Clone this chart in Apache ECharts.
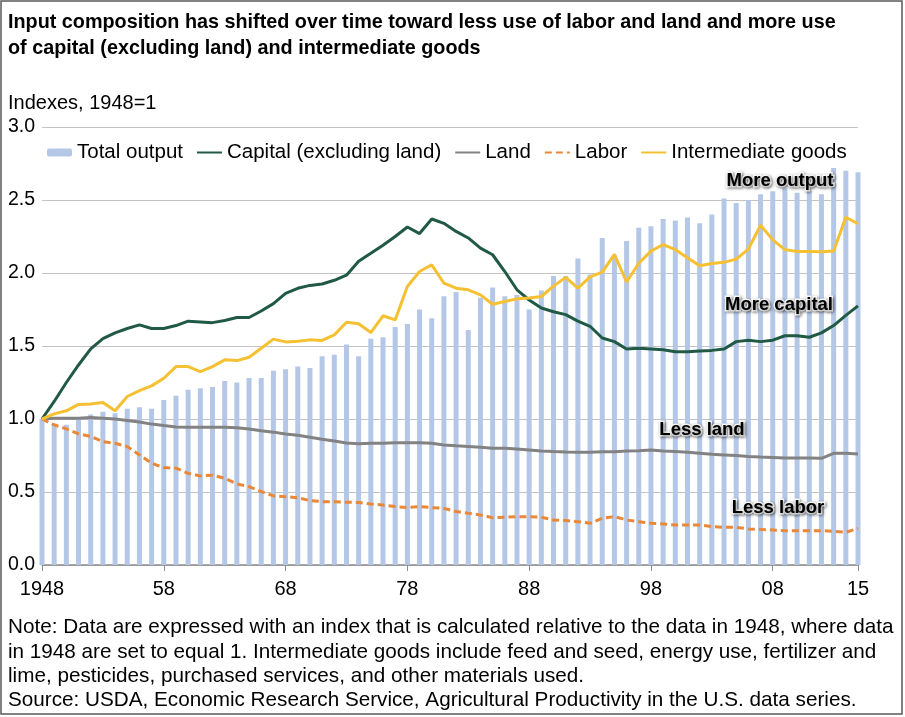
<!DOCTYPE html>
<html>
<head>
<meta charset="utf-8">
<title>Input composition</title>
<script src="https://cdn.jsdelivr.net/npm/echarts@6/dist/echarts.min.js"></script>
<style>
html, body { margin: 0; padding: 0; background: #fff; }
#main { width: 905px; height: 717px; }
</style>
</head>
<body>
<div id="main"></div>
<script>
// years on the x axis, 1948-2015
var years = ['1948','1949','1950','1951','1952','1953','1954','1955','1956','1957',
  '1958','1959','1960','1961','1962','1963','1964','1965','1966','1967',
  '1968','1969','1970','1971','1972','1973','1974','1975','1976','1977',
  '1978','1979','1980','1981','1982','1983','1984','1985','1986','1987',
  '1988','1989','1990','1991','1992','1993','1994','1995','1996','1997',
  '1998','1999','2000','2001','2002','2003','2004','2005','2006','2007',
  '2008','2009','2010','2011','2012','2013','2014','2015'];

var totalOutput = [1.00,0.97,0.96,1.00,1.03,1.05,1.04,1.07,1.08,1.07,
  1.13,1.16,1.20,1.21,1.22,1.26,1.25,1.28,1.28,1.33,
  1.34,1.36,1.35,1.43,1.44,1.51,1.43,1.55,1.56,1.63,
  1.65,1.75,1.69,1.84,1.87,1.61,1.83,1.90,1.84,1.85,
  1.75,1.88,1.98,1.98,2.10,1.99,2.24,2.12,2.22,2.31,
  2.32,2.37,2.36,2.38,2.34,2.40,2.51,2.48,2.50,2.54,
  2.56,2.58,2.55,2.56,2.54,2.72,2.70,2.69];

var capital = [1.00,1.12,1.25,1.37,1.48,1.55,1.59,1.62,1.645,1.62,
  1.62,1.64,1.67,1.665,1.66,1.675,1.695,1.695,1.74,1.79,
  1.86,1.895,1.915,1.925,1.95,1.985,2.08,2.135,2.19,2.25,
  2.315,2.27,2.37,2.34,2.285,2.24,2.17,2.125,2.01,1.885,
  1.815,1.76,1.735,1.715,1.67,1.635,1.555,1.53,1.48,1.485,
  1.48,1.475,1.46,1.46,1.465,1.47,1.48,1.53,1.54,1.53,
  1.54,1.57,1.57,1.56,1.59,1.64,1.71,1.775];

var land = [1.00,1.005,1.005,1.005,1.01,1.005,1.00,0.99,0.98,0.965,
  0.955,0.946,0.944,0.944,0.944,0.944,0.94,0.932,0.92,0.91,
  0.898,0.888,0.875,0.861,0.85,0.835,0.83,0.834,0.834,0.838,
  0.838,0.838,0.834,0.822,0.816,0.811,0.806,0.80,0.80,0.795,
  0.788,0.781,0.777,0.774,0.772,0.772,0.776,0.776,0.781,0.783,
  0.788,0.781,0.777,0.772,0.765,0.758,0.754,0.75,0.743,0.739,
  0.736,0.733,0.733,0.733,0.731,0.765,0.765,0.761];

var labor = [1.00,0.96,0.932,0.898,0.88,0.845,0.834,0.811,0.754,0.697,
  0.667,0.663,0.628,0.61,0.615,0.594,0.555,0.537,0.503,0.473,
  0.468,0.461,0.441,0.434,0.434,0.43,0.428,0.418,0.411,0.40,
  0.393,0.40,0.393,0.388,0.366,0.354,0.343,0.324,0.327,0.331,
  0.331,0.327,0.308,0.305,0.297,0.286,0.32,0.331,0.308,0.297,
  0.286,0.281,0.274,0.274,0.274,0.263,0.258,0.258,0.247,0.244,
  0.24,0.235,0.235,0.235,0.235,0.231,0.224,0.251];

var intermediate = [1.00,1.035,1.056,1.10,1.103,1.113,1.056,1.154,1.195,1.227,
  1.279,1.359,1.359,1.325,1.359,1.405,1.40,1.423,1.485,1.547,
  1.528,1.533,1.542,1.538,1.576,1.663,1.652,1.592,1.707,1.679,
  1.908,2.01,2.056,1.93,1.896,1.885,1.85,1.786,1.805,1.823,
  1.828,1.839,1.91,1.97,1.897,1.973,2.006,2.127,1.938,2.067,
  2.15,2.195,2.16,2.105,2.049,2.065,2.073,2.095,2.164,2.327,
  2.227,2.16,2.147,2.147,2.146,2.15,2.382,2.337];

var tickYears  = ['1948','1958','1968','1978','1988','1998','2008','2015'];
var tickLabels = ['1948','58','68','78','88','98','08','15'];

var titleLines = [
  'Input composition has shifted over time toward less use of labor and land and more use',
  'of capital (excluding land) and intermediate goods'
];
var unitLabel = 'Indexes, 1948=1';
var noteLines = [
  'Note: Data are expressed with an index that is calculated relative to the data in 1948, where data',
  'in 1948 are set to equal 1. Intermediate goods include feed and seed, energy use, fertilizer and',
  'lime, pesticides, purchased services, and other materials used.',
  'Source: USDA, Economic Research Service, Agricultural Productivity in the U.S. data series.'
];

var FONT = '"Liberation Sans", Arial, Helvetica, sans-serif';

function isTick(index) {
  return tickYears.indexOf(years[index]) !== -1;
}

function plainText(x, y, s, size, weight) {
  return {
    type: 'text', x: x, y: y, silent: true,
    style: {
      text: s, fill: '#000', fontSize: size, fontWeight: weight || 'normal',
      fontFamily: FONT, align: 'left', verticalAlign: 'middle'
    }
  };
}

function callout(x, y, s) {
  return {
    type: 'text', x: x, y: y, z: 100, silent: true,
    style: {
      text: s, fill: '#000', fontSize: 18.5, fontWeight: 'bold', fontFamily: FONT,
      align: 'center', verticalAlign: 'middle',
      stroke: '#fff', lineWidth: 3,
      textShadowColor: 'rgba(0,0,0,0.5)', textShadowBlur: 3,
      textShadowOffsetX: 1, textShadowOffsetY: 1
    }
  };
}

var chart = echarts.init(document.getElementById('main'));

var graphics = [
  { type: 'rect', silent: true, shape: { x: 1, y: 1, width: 901, height: 713 },
    style: { fill: 'none', stroke: '#5a5a5a', lineWidth: 1.5 } },
  plainText(8, 23, titleLines[0], 19.8, 'bold'),
  plainText(8, 48.5, titleLines[1], 19.8, 'bold'),
  plainText(8, 103.5, unitLabel, 20),
  callout(780, 181, 'More output'),
  callout(779, 305, 'More capital'),
  callout(702, 430, 'Less land'),
  callout(778, 508, 'Less labor')
];
var noteY = [627.5, 652, 676.5, 700.5];
noteLines.forEach(function (s, i) {
  graphics.push(plainText(8, noteY[i], s, 20.7));
});

// line legend items: hide the marker, keep only the stroke
var noMarker = { opacity: 0 };

var option = {
  animation: false,
  backgroundColor: '#fff',
  textStyle: { fontFamily: FONT },
  grid: { left: 42, right: 47, top: 127, bottom: 152, containLabel: false, outerBoundsMode: 'none' },
  legend: {
    left: 47, top: 142, padding: 0,
    itemWidth: 25, itemHeight: 8, itemGap: 13,
    textStyle: { fontSize: 20.5, color: '#000', fontFamily: FONT },
    data: [
      'Total output',
      { name: 'Capital (excluding land)', itemStyle: noMarker },
      { name: 'Land', itemStyle: noMarker },
      { name: 'Labor', itemStyle: noMarker },
      { name: 'Intermediate goods', itemStyle: noMarker }
    ]
  },
  xAxis: {
    type: 'category',
    data: years,
    boundaryGap: false,
    axisLine: { lineStyle: { color: '#8c8c8c', width: 1.5 } },
    axisTick: { interval: isTick, length: 6, lineStyle: { color: '#8c8c8c' } },
    axisLabel: {
      interval: isTick, margin: 14, fontSize: 20, color: '#000', fontFamily: FONT,
      formatter: function (v) {
        var k = tickYears.indexOf(v);
        return k >= 0 ? tickLabels[k] : '';
      }
    },
    splitLine: { show: false }
  },
  yAxis: {
    type: 'value', min: 0, max: 3, interval: 0.5,
    axisLine: { show: false },
    axisTick: { show: false },
    axisLabel: {
      margin: 7, fontSize: 19.5, color: '#000', fontFamily: FONT,
      formatter: function (v) { return v.toFixed(1); }
    },
    splitLine: { lineStyle: { color: '#c3c3c3', width: 1.2 } }
  },
  graphic: graphics,
  series: [
    {
      name: 'Total output', type: 'bar', data: totalOutput,
      barWidth: 5, clip: false,
      itemStyle: { color: '#b4c7e7' }
    },
    {
      name: 'Capital (excluding land)', type: 'line', data: capital,
      symbol: 'none', lineStyle: { color: '#215a44', width: 3 }, itemStyle: { color: '#215a44' }
    },
    {
      name: 'Land', type: 'line', data: land,
      symbol: 'none', lineStyle: { color: '#828282', width: 3 }, itemStyle: { color: '#828282' }
    },
    {
      name: 'Labor', type: 'line', data: labor,
      symbol: 'none', lineStyle: { color: '#ea8839', width: 3, type: [7, 4] }, itemStyle: { color: '#ea8839' }
    },
    {
      name: 'Intermediate goods', type: 'line', data: intermediate,
      symbol: 'none', lineStyle: { color: '#f6c033', width: 3 }, itemStyle: { color: '#f6c033' }
    }
  ]
};

chart.setOption(option);
</script>
</body>
</html>
